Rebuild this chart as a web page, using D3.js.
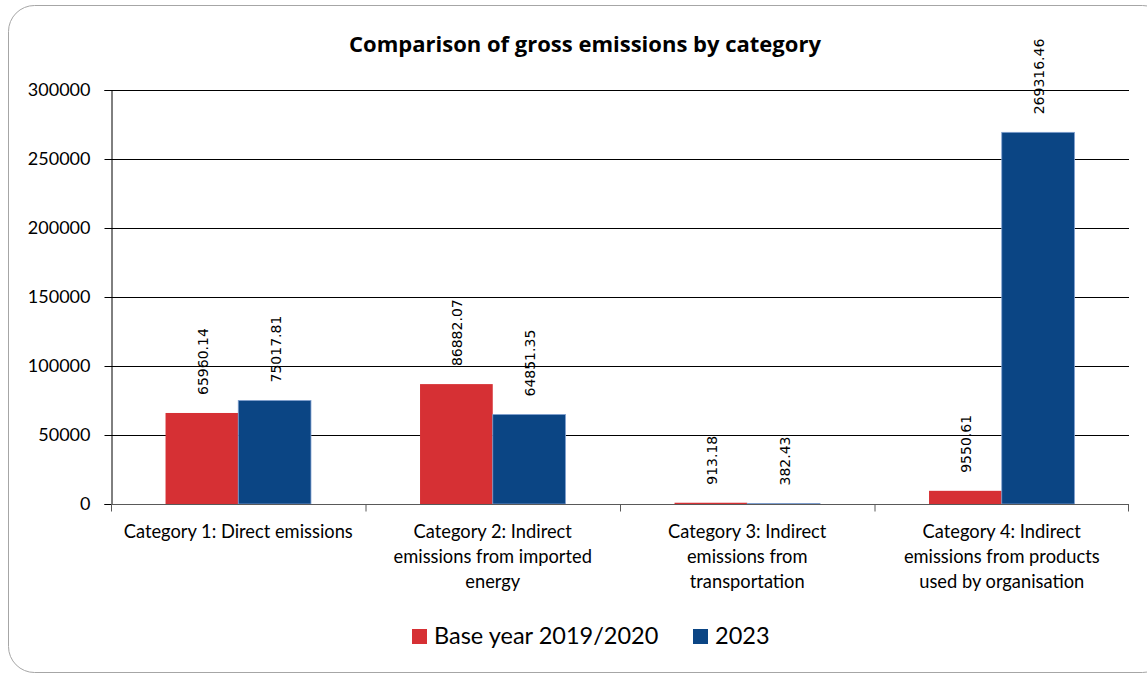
<!DOCTYPE html>
<html><head><meta charset="utf-8">
<script src="https://cdn.jsdelivr.net/npm/d3@7"></script>
<style>body{margin:0;background:#fff}svg{display:block}</style>
</head><body>
<svg id="c" width="1147" height="675"></svg>
<script>
const categories = [
  ["Category 1: Direct emissions"],
  ["Category 2: Indirect", "emissions from imported", "energy"],
  ["Category 3: Indirect", "emissions from", "transportation"],
  ["Category 4: Indirect", "emissions from products", "used by organisation"]
];
const seriesNames = ["Base year 2019/2020", "2023"];
const baseYear = [65960.14, 86882.07, 913.18, 9550.61];
const year2023 = [75017.81, 64851.35, 382.43, 269316.46];
const yTicks = [0, 50000, 100000, 150000, 200000, 250000, 300000];
const colors = ["#d63034", "#0b4584"];
const title = "Comparison of gross emissions by category";

const svg = d3.select("#c");
const FONT = "Lato, 'Open Sans', sans-serif";
const LABFONT = "'DejaVu Sans', sans-serif";

// border
svg.append("rect").attr("x", 8.5).attr("y", 5.5).attr("width", 1160).attr("height", 667)
  .attr("rx", 26).attr("ry", 26).attr("fill", "#fff").attr("stroke", "#a6a6a6").attr("stroke-width", 1);

const L = 111, R = 1129, T = 90, B = 504;
const x0 = d3.scaleBand().domain(d3.range(categories.length)).range([L, R]).paddingInner(0).paddingOuter(0);
const y = d3.scaleLinear().domain([0, 300000]).range([B, T]);
const barW = x0.bandwidth() / 3.5;

// gridlines
svg.append("g").selectAll("line").data(yTicks.slice(1)).join("line")
  .attr("x1", L).attr("x2", R).attr("y1", d => Math.round(y(d)) + 0.5).attr("y2", d => Math.round(y(d)) + 0.5)
  .attr("stroke", "#000").attr("stroke-width", 1);

// y axis
const ya = svg.append("g").attr("transform", `translate(${L + 0.5},0)`)
  .call(d3.axisLeft(y).tickValues(yTicks).tickSize(7).tickPadding(14).tickFormat(d3.format("d")));
ya.select(".domain").attr("stroke", "#000");
ya.selectAll(".tick line").attr("stroke", "#000");
ya.selectAll("text").attr("font-family", FONT).attr("font-size", 18).attr("fill", "#000");

// bars
const data = categories.map((c, i) => ({ i, vals: [baseYear[i], year2023[i]] }));
const groups = svg.append("g").selectAll("g").data(data).join("g");
groups.selectAll("rect").data(d => d.vals.map((v, s) => ({ i: d.i, s, v }))).join("rect")
  .attr("x", d => x0(d.i) + x0.bandwidth() / 2 - barW + d.s * barW)
  .attr("y", d => y(d.v))
  .attr("width", barW)
  .attr("height", d => B - y(d.v))
  .attr("fill", d => colors[d.s])
  .attr("stroke", d => d.s === 1 ? "#7f9fcf" : "none").attr("stroke-width", 0.8);

// data labels
groups.selectAll("text").data(d => d.vals.map((v, s) => ({ i: d.i, s, v }))).join("text")
  .attr("transform", d => {
    const cx = x0(d.i) + x0.bandwidth() / 2 - barW + d.s * barW + barW / 2;
    return `translate(${cx + 6},${y(d.v) - 18}) rotate(-90)`;
  })
  .attr("font-family", LABFONT).attr("font-size", 14).attr("fill", "#000")
  .text(d => d.v.toFixed(2));

// x axis
const xa = svg.append("g").attr("transform", `translate(0,${B + 0.5})`);
xa.append("line").attr("x1", L).attr("x2", R).attr("stroke", "#595959");
xa.selectAll("line.t").data(d3.range(categories.length + 1)).join("line").attr("class", "t")
  .attr("x1", i => i < categories.length ? x0(i) + 0.5 : R - 0.5).attr("x2", i => i < categories.length ? x0(i) + 0.5 : R - 0.5)
  .attr("y1", 0).attr("y2", 7).attr("stroke", "#595959");
const xl = xa.selectAll("text").data(categories).join("text")
  .attr("font-family", FONT).attr("font-size", 18.3).attr("fill", "#000").attr("text-anchor", "middle");
xl.selectAll("tspan").data((d, i) => d.map(line => ({ line, i }))).join("tspan")
  .attr("x", d => x0(d.i) + x0.bandwidth() / 2)
  .attr("y", (d, j) => 33 + j * 25)
  .text(d => d.line);

// title
svg.append("text").attr("x", 585).attr("y", 52).attr("text-anchor", "middle")
  .attr("font-family", "'Open Sans', sans-serif").attr("font-weight", "bold").attr("font-size", 22).attr("fill", "#000")
  .text(title);

// legend
const lg = svg.append("g");
const legendX = [412, 693];
seriesNames.forEach((n, s) => {
  lg.append("rect").attr("x", legendX[s]).attr("y", 629).attr("width", 15).attr("height", 15).attr("fill", colors[s]);
  lg.append("text").attr("x", legendX[s] + 22).attr("y", 644).attr("font-family", FONT).attr("font-size", 23.5)
    .attr("fill", "#000").text(n);
});
</script>
</body></html>
